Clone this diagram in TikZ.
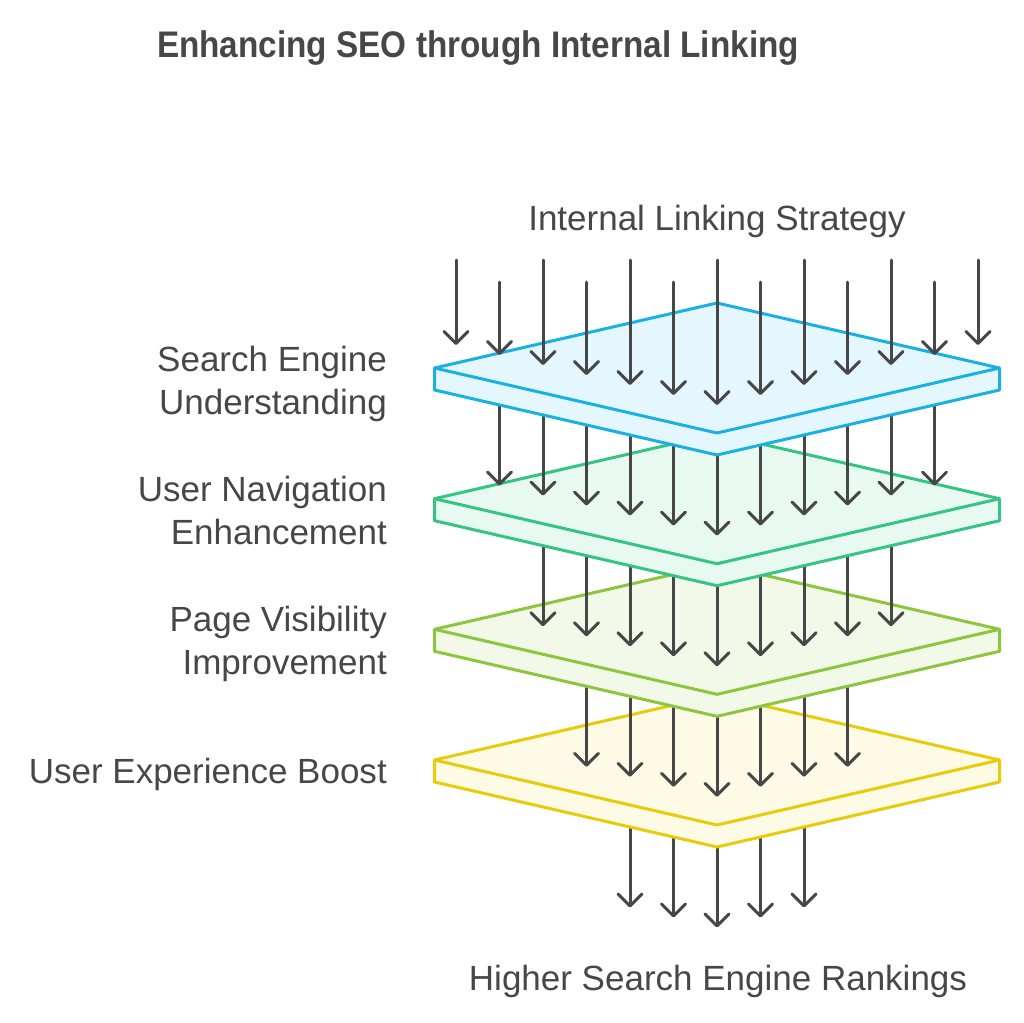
\documentclass[tikz,border=0pt]{standalone}
\usepackage{fontspec}
\setmainfont{Liberation Sans}
\newfontfamily\headfont[FakeStretch=0.9]{Liberation Sans}
\usepackage{xcolor}
\definecolor{InkGray}{HTML}{474747}
\definecolor{SkyLine}{HTML}{1BB0E4}
\definecolor{SkyFill}{HTML}{E5F7FE}
\definecolor{MintLine}{HTML}{35C483}
\definecolor{MintFill}{HTML}{E8F9F1}
\definecolor{LimeLine}{HTML}{8CC63E}
\definecolor{LimeFill}{HTML}{F3F9E8}
\definecolor{SunLine}{HTML}{E6CC0A}
\definecolor{SunFill}{HTML}{FDFBE5}
\usetikzlibrary{arrows.meta}

% one slab: #1 = y of the side corners, #2 = edge colour, #3 = fill
\newcommand{\slab}[3]{%
  \draw[line width=3pt,line join=round,draw=#2,fill=#3]
    (434.5,#1) -- (717,#1-65) -- (999.5,#1) -- (999.5,#1+22)
    -- (717,#1+87) -- (434.5,#1+22) -- cycle;
  \draw[line width=3pt,line join=round,#2] (434.5,#1) -- (717,#1+65) -- (999.5,#1);
}
% arrows of level #1 (1..4), starting inside the slab above
\newcommand{\flows}[1]{%
  \pgfmathtruncatemacro\kfirst{#1}
  \pgfmathtruncatemacro\klast{12-#1}
  \foreach \k in {\kfirst,...,\klast}{
    \pgfmathsetmacro\xk{456+43.5*\k}
    \pgfmathsetmacro\ytop{379+130.6*(#1-1)}
    \pgfmathsetmacro\ytip{405+130.6*#1-10*abs(\k-6)}
    \draw[flow] (\xk,\ytop) -- (\xk,\ytip);
  }
}

\begin{document}
\begin{tikzpicture}[x=1pt,y=-1pt,
  flow/.style={line width=3pt,InkGray,line cap=round,
    -{Straight Barb[length=12pt,width=24pt,round]}},
  sidetext/.style={font=\fontsize{35}{43}\selectfont,text=InkGray,
    anchor=base east,align=right,inner sep=0pt},
  midtext/.style={font=\fontsize{35}{40}\selectfont,text=InkGray,
    anchor=base,inner sep=0pt}]
  \useasboundingbox (0,0) rectangle (1024,1022);

  \node[font=\headfont\bfseries\fontsize{37}{42}\selectfont,text=InkGray,
    anchor=base,inner sep=0pt] (title) at (478,58)
    {Enhancing SEO through Internal Linking};
  \node[midtext] (source) at (717,230) {Internal Linking Strategy};
  \node[midtext] (target) at (718,990) {Higher Search Engine Rankings};

  % bottom up, so each slab hides the tails below it
  \flows{4}
  \slab{760}{SunLine}{SunFill}
  \flows{3}
  \slab{629.3}{LimeLine}{LimeFill}
  \flows{2}
  \slab{498.7}{MintLine}{MintFill}
  \flows{1}
  \slab{368}{SkyLine}{SkyFill}
  \foreach \k in {0,...,12}{
    \pgfmathsetmacro\xk{456+43.5*\k}
    \pgfmathsetmacro\ytop{isodd(\k) ? 282 : 260}
    \pgfmathsetmacro\ytip{405-10*abs(\k-6)}
    \draw[flow] (\xk,\ytop) -- (\xk,\ytip);
  }

  % multi-line nodes sit on the base of their last line
  \node[sidetext] (search) at (387,414) {Search Engine\\Understanding};
  \node[sidetext] (navigation) at (387,544) {User Navigation\\Enhancement};
  \node[sidetext] (visibility) at (387,674) {Page Visibility\\Improvement};
  \node[sidetext] (experience) at (387,783) {User Experience Boost};
\end{tikzpicture}
\end{document}
